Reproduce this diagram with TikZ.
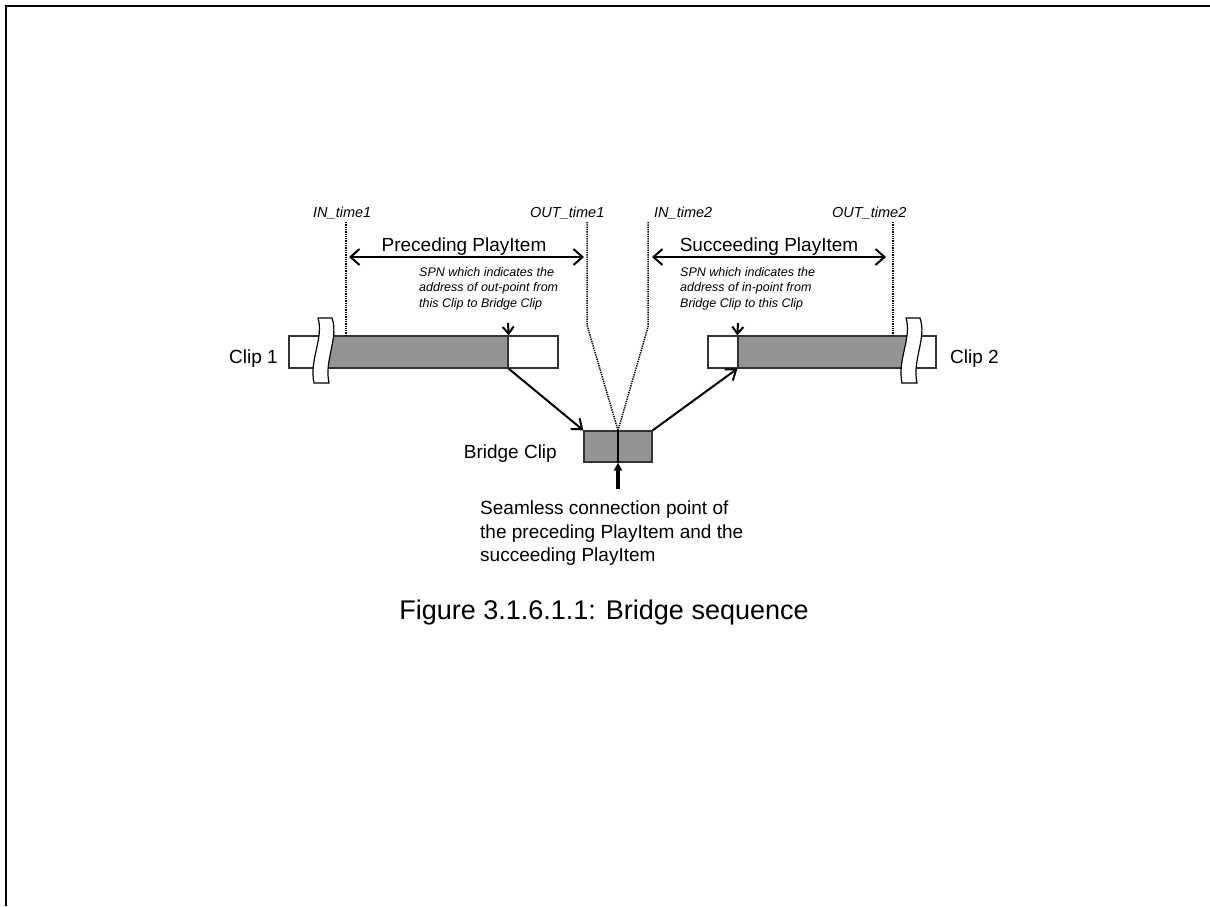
\documentclass[tikz,border=0pt]{standalone}
\usepackage{fontspec}
\setmainfont{Liberation Sans}
\usetikzlibrary{arrows.meta}
\begin{document}
\begin{tikzpicture}[x=1pt,y=-1pt,
  lbl/.style={font=\fontsize{19}{23.5}\selectfont, inner sep=0},
  tlbl/.style={font=\fontsize{14.5}{17}\selectfont\itshape, inner sep=0},
  spn/.style={font=\fontsize{12.5}{15.5}\selectfont\itshape, align=left, inner sep=0},
  dotln/.style={line width=1.5, dash pattern=on 1.3pt off 1pt},
  arr/.style={line width=2, -{Straight Barb[length=9pt,width=14pt]}},
  dbl/.style={line width=2, {Straight Barb[length=9pt,width=16pt]}-{Straight Barb[length=9pt,width=16pt]}},
  upar/.style={line width=3.2, -{Triangle[length=8pt,width=8pt]}},
  bar/.style={draw=black!80, line width=1.3, inner sep=0, minimum height=32},
  brk/.style={fill=white, draw=black, line width=1.2}
]
\useasboundingbox (0,0) rectangle (1210,906);
\draw[line width=2] (6,906) -- (6,6) -- (1210,6);

% time labels
\node[tlbl, anchor=base west] (in1)  at (313,217) {IN\_time1};
\node[tlbl, anchor=base west] (out1) at (530,217) {OUT\_time1};
\node[tlbl, anchor=base west] (in2)  at (654,217) {IN\_time2};
\node[tlbl, anchor=base west] (out2) at (832,217) {OUT\_time2};

% clips
\node[bar, fill=white, minimum width=269] (c1) at (423.5,352) {};
\node[bar, fill=black!42, minimum width=183] (g1) at (416.5,352) {};
\node[bar, fill=white, minimum width=228] (c2) at (822,352) {};
\node[bar, fill=black!42, minimum width=172] (g2) at (824,352) {};
\node[bar, fill=black!42, minimum width=68, minimum height=31] (br) at (618,446.5) {};
\draw[line width=1.3] (br.north) -- (br.south);

% breaks
\draw[brk] (318,318) .. controls (324,338) and (309,360) .. (314,383) -- (329,383) .. controls (324,360) and (339,338) .. (332,318) -- cycle;
\draw[brk] (906,318) .. controls (912,338) and (897,360) .. (902,383) -- (917,383) .. controls (912,360) and (927,338) .. (920,318) -- cycle;

% dotted time lines
\coordinate (bend1) at (587,325);
\coordinate (bend2) at (648,327);
\draw[dotln] (346,222) -- (346,336);
\draw[dotln] (587,222) -- (bend1) -- (br.north);
\draw[dotln] (648,222) -- (bend2) -- (br.north);
\draw[dotln] (893,222) -- (893,335);

% playitem arrows
\coordinate (pa) at (349,257);
\coordinate (pb) at (584,257);
\coordinate (sa) at (652,257);
\coordinate (sb) at (886,257);
\draw[dbl] (pa) -- (pb);
\draw[dbl] (sa) -- (sb);
\node[lbl, anchor=base] (prec) at (464,251) {Preceding PlayItem};
\node[lbl, anchor=base] (succ) at (769,251) {Succeeding PlayItem};

% SPN notes
\node[spn, anchor=north west] (spn1) at (419,267) {SPN which indicates the\\address of out-point from\\this Clip to Bridge Clip};
\node[spn, anchor=north west] (spn2) at (680,267) {SPN which indicates the\\address of in-point from\\Bridge Clip to this Clip};
\coordinate (s1) at (508,323);
\coordinate (s2) at (738,323);
\draw[arr, -{Straight Barb[length=7pt,width=11pt]}] (s1) -- (g1.north east);
\draw[arr, -{Straight Barb[length=7pt,width=11pt]}] (s2) -- (g2.north west);

% flow arrows
\draw[arr] (g1.south east) -- (br.north west);
\draw[arr] (br.north east) -- (g2.south west);

% labels
\node[lbl, anchor=base east] (l1) at (278,363) {Clip 1};
\node[lbl, anchor=base west] (l2) at (950,363) {Clip 2};
\node[lbl, anchor=base east] (lb) at (557,458) {Bridge Clip};

% seamless point
\coordinate (up) at (618,489);
\draw[upar] (up) -- (br.south);
\node[lbl, align=left, anchor=north west] (seam) at (480,501) {Seamless connection point of\\the preceding PlayItem and the\\succeeding PlayItem};

% caption
\node[font=\fontsize{27}{32}\selectfont, inner sep=0, anchor=base] (cap) at (604,619) {Figure 3.1.6.1.1: Bridge sequence};
\end{tikzpicture}
\end{document}
